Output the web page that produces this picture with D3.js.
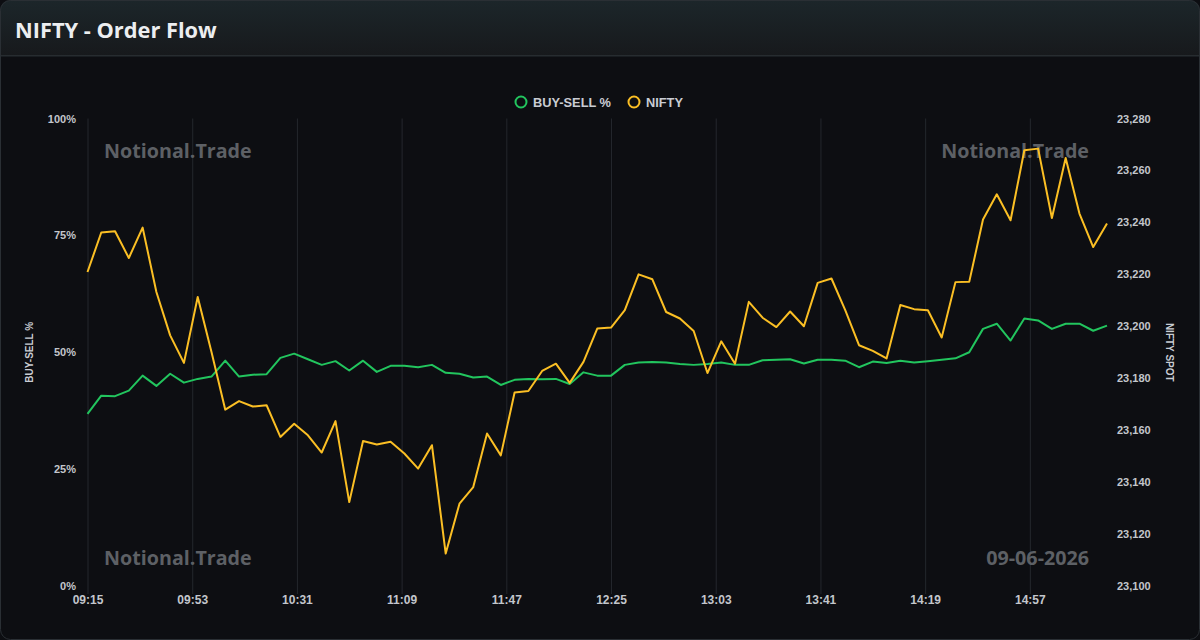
<!DOCTYPE html>
<html>
<head>
<meta charset="utf-8">
<script src="https://cdn.jsdelivr.net/npm/d3@7"></script>
<style>
  html, body { margin: 0; padding: 0; background: #0d0e12; }
  svg { display: block; }
</style>
</head>
<body>
<svg id="chart" width="1200" height="640"></svg>
<script>
const times = ["09:15","09:20","09:25","09:30","09:35","09:40","09:45","09:50","09:55","10:00",
  "10:05","10:10","10:15","10:20","10:25","10:30","10:35","10:40","10:45","10:50",
  "10:55","11:00","11:05","11:10","11:15","11:20","11:25","11:30","11:35","11:40",
  "11:45","11:50","11:55","12:00","12:05","12:10","12:15","12:20","12:25","12:30",
  "12:35","12:40","12:45","12:50","12:55","13:00","13:05","13:10","13:15","13:20",
  "13:25","13:30","13:35","13:40","13:45","13:50","13:55","14:00","14:05","14:10",
  "14:15","14:20","14:25","14:30","14:35","14:40","14:45","14:50","14:55","15:00",
  "15:05","15:10","15:15","15:20","15:25"];

const buySellPct = [36.8,40.7,40.6,41.8,45.0,42.8,45.4,43.5,44.3,44.8,
  48.2,44.8,45.2,45.3,48.8,49.7,48.5,47.3,48.1,46.1,
  48.2,45.8,47.1,47.1,46.8,47.3,45.6,45.4,44.6,44.8,
  43.0,44.1,44.3,44.2,44.3,43.2,45.7,45.0,45.0,47.3,
  47.8,47.9,47.8,47.5,47.3,47.5,47.8,47.3,47.3,48.3,
  48.4,48.5,47.6,48.4,48.4,48.2,46.8,48.0,47.7,48.2,
  47.8,48.1,48.4,48.7,50.0,55.0,56.1,52.5,57.2,56.8,
  55.0,56.1,56.1,54.6,55.7];

const niftySpot = [23220.9,23236.1,23236.6,23226.3,23238.0,23213.2,23196.5,23185.9,23211.3,23190.1,
  23167.9,23171.2,23169.1,23169.6,23157.4,23162.5,23158.0,23151.4,23163.5,23132.3,
  23155.8,23154.5,23155.5,23151.0,23145.2,23154.2,23112.5,23131.7,23138.1,23158.7,
  23150.3,23174.5,23175.1,23182.8,23185.6,23178.2,23186.3,23199.1,23199.5,23206.2,
  23220.0,23218.1,23205.5,23203.0,23198.2,23182.0,23194.2,23185.6,23209.4,23203.3,
  23199.7,23205.7,23200.0,23216.7,23218.4,23206.2,23192.7,23190.5,23187.6,23208.2,
  23206.6,23206.2,23195.7,23217.0,23217.1,23241.1,23250.8,23240.8,23267.8,23268.4,
  23241.7,23264.8,23243.4,23230.5,23239.6];

const xTickLabels = ["09:15","09:53","10:31","11:09","11:47","12:25","13:03","13:41","14:19","14:57"];
const leftTicks = [0, 25, 50, 75, 100];
const rightTicks = [23100,23120,23140,23160,23180,23200,23220,23240,23260,23280];
const seriesNames = ["BUY-SELL %", "NIFTY"];
const seriesColors = ["#22c55e", "#fbbf24"];

const W = 1200, H = 640;
const plot = { left: 87.5, right: 1107, top: 118.5, bottom: 586 };
const FONT = "'Liberation Sans', Arial, Helvetica, sans-serif";
const WFONT = "'Open Sans', 'Noto Sans', sans-serif";

const svg = d3.select("#chart");
const defs = svg.append("defs");
const grad = defs.append("linearGradient").attr("id", "hdr").attr("x1", 0).attr("y1", 0).attr("x2", 0).attr("y2", 1);
grad.append("stop").attr("offset", "0%").attr("stop-color", "#1c262a");
grad.append("stop").attr("offset", "100%").attr("stop-color", "#17191c");
defs.append("clipPath").attr("id", "card").append("rect")
  .attr("x", 0).attr("y", 0).attr("width", W).attr("height", H).attr("rx", 10);

const card = svg.append("g").attr("clip-path", "url(#card)");
card.append("rect").attr("width", W).attr("height", H).attr("fill", "#0d0e12");
card.append("rect").attr("width", W).attr("height", 56).attr("fill", "url(#hdr)");
card.append("rect").attr("x", 0).attr("y", 55).attr("width", W).attr("height", 1.5).attr("fill", "#272c30");
svg.append("rect").attr("x", 0.5).attr("y", 0.5).attr("width", W - 1).attr("height", H - 1)
  .attr("rx", 10).attr("fill", "none").attr("stroke", "#2a2f34");

svg.append("text").attr("x", 15).attr("y", 38)
  .attr("font-family", WFONT).attr("font-weight", 700).attr("font-size", 21.8)
  .attr("fill", "#eceef0").text("NIFTY - Order Flow");

const toMin = s => { const [h, m] = s.split(":").map(Number); return h * 60 + m; };
const t0 = toMin(times[0]);

const x = d3.scaleLinear()
  .domain([0, toMin(times[times.length - 1]) - t0])
  .range([plot.left, plot.right]);
const yL = d3.scaleLinear().domain([0, 100]).range([plot.bottom, plot.top]);
const yR = d3.scaleLinear().domain([23100, 23280]).range([plot.bottom, plot.top]);

// vertical grid + x axis
const xAxis = d3.axisBottom(x)
  .tickValues(xTickLabels.map(s => toMin(s) - t0))
  .tickFormat((d, i) => xTickLabels[i])
  .tickSize(0)
  .tickSizeOuter(0)
  .tickPadding(12);
const gx = svg.append("g").attr("transform", `translate(0,${plot.bottom + 8})`).call(xAxis);
gx.select(".domain").remove();
gx.selectAll(".tick line").attr("stroke", "#24272d").attr("stroke-width", 1)
  .attr("y1", 0).attr("y2", -(plot.bottom - plot.top) - 8);
gx.selectAll(".tick text").attr("font-family", FONT).attr("font-weight", 700)
  .attr("font-size", 12).attr("fill", "#c3c6cc").attr("dy", "0.2em")
  .attr("y", 8);

// left axis
const gl = svg.append("g").attr("transform", `translate(${plot.left - 11.5},0)`)
  .call(d3.axisLeft(yL).tickValues(leftTicks).tickFormat(d => d + "%").tickSize(0).tickPadding(0));
gl.select(".domain").remove();
gl.selectAll(".tick text").attr("font-family", FONT).attr("font-weight", 700)
  .attr("font-size", 11).attr("fill", "#c3c6cc");

// right axis
const gr = svg.append("g").attr("transform", `translate(${plot.right + 10},0)`)
  .call(d3.axisRight(yR).tickValues(rightTicks).tickFormat(d3.format(",")).tickSize(0).tickPadding(0));
gr.select(".domain").remove();
gr.selectAll(".tick text").attr("font-family", FONT).attr("font-weight", 700)
  .attr("font-size", 11).attr("fill", "#c3c6cc");

// axis titles
svg.append("text").attr("transform", `translate(33,${(plot.top + plot.bottom) / 2}) rotate(-90)`)
  .attr("text-anchor", "middle").attr("font-family", FONT).attr("font-weight", 700)
  .attr("font-size", 10).attr("fill", "#c9ccd3").text("BUY-SELL %");
svg.append("text").attr("transform", `translate(1166,${(plot.top + plot.bottom) / 2}) rotate(90)`)
  .attr("text-anchor", "middle").attr("font-family", FONT).attr("font-weight", 700)
  .attr("font-size", 10).attr("fill", "#c9ccd3").text("NIFTY SPOT");

// watermarks
const wm = svg.append("g").attr("font-family", WFONT).attr("font-weight", 700)
  .attr("font-size", 19.7).attr("fill", "#5d6065");
wm.append("text").attr("x", 104).attr("y", 158).text("Notional.Trade");
wm.append("text").attr("x", 1089).attr("y", 158).attr("text-anchor", "end").text("Notional.Trade");
wm.append("text").attr("x", 104).attr("y", 565).text("Notional.Trade");
wm.append("text").attr("x", 1089).attr("y", 565).attr("text-anchor", "end").text("09-06-2026");

// lines
const xs = times.map(s => toMin(s) - t0);
const lineL = d3.line().x((d, i) => x(xs[i])).y(d => yL(d));
const lineR = d3.line().x((d, i) => x(xs[i])).y(d => yR(d));
svg.append("path").datum(buySellPct).attr("d", lineL).attr("fill", "none")
  .attr("stroke", seriesColors[0]).attr("stroke-width", 2).attr("stroke-linejoin", "round");
svg.append("path").datum(niftySpot).attr("d", lineR).attr("fill", "none")
  .attr("stroke", seriesColors[1]).attr("stroke-width", 2).attr("stroke-linejoin", "round");

// legend
const legend = svg.append("g").attr("font-family", FONT).attr("font-weight", 700).attr("font-size", 12.8);
const legX = [521, 634];
seriesNames.forEach((name, i) => {
  legend.append("circle").attr("cx", legX[i]).attr("cy", 102).attr("r", 5.5)
    .attr("fill", "none").attr("stroke", seriesColors[i]).attr("stroke-width", 2);
  legend.append("text").attr("x", legX[i] + 12).attr("y", 106.5).attr("fill", "#c9ccd3").text(name);
});
</script>
</body>
</html>
